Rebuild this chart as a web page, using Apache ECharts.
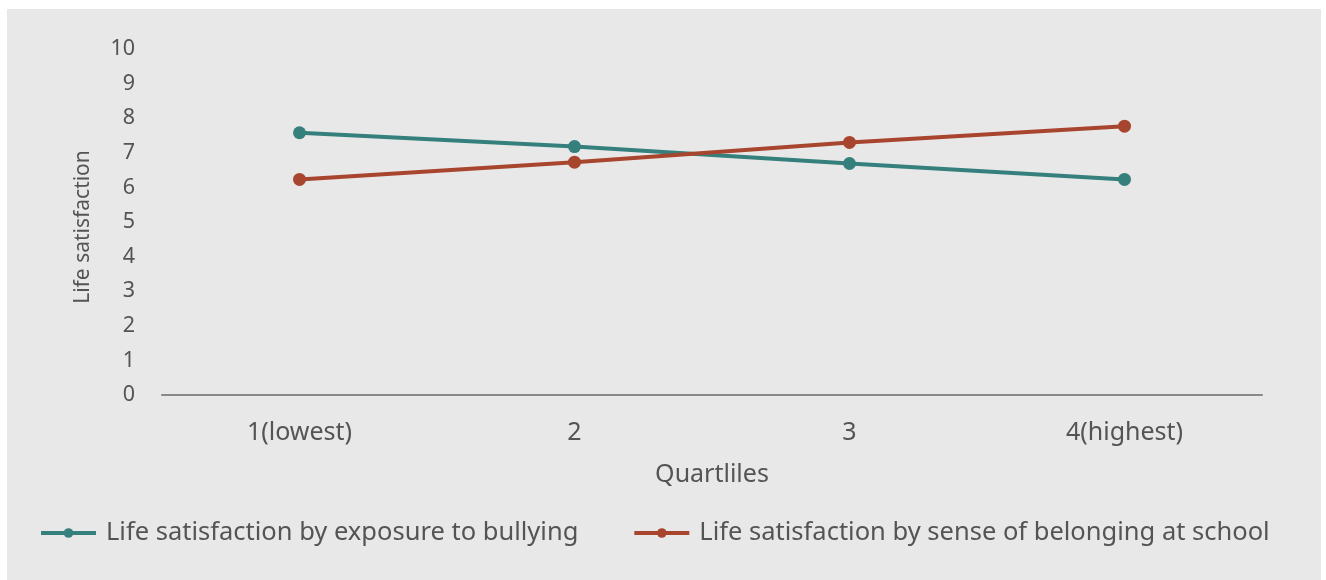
<!DOCTYPE html>
<html>
<head>
<meta charset="utf-8">
<script src="https://cdn.jsdelivr.net/npm/echarts@6/dist/echarts.min.js"></script>
<style>
html,body{margin:0;padding:0;background:#ffffff;}
#chart{position:absolute;left:7px;top:9px;width:1314px;height:571px;background:#e8e8e8;}
</style>
</head>
<body>
<div id="chart"></div>
<script>
const categories = ['1(lowest)', '2', '3', '4(highest)'];
const bullying = [7.58, 7.18, 6.69, 6.23];
const belonging = [6.23, 6.73, 7.30, 7.77];
const seriesNames = ['Life satisfaction by exposure to bullying', 'Life satisfaction by sense of belonging at school'];
const FONT = 'Noto Sans';
const TXT = '#545454';
const chart = echarts.init(document.getElementById('chart'), null, {renderer: 'canvas'});
chart.setOption({
  backgroundColor: '#e8e8e8',
  animation: false,
  textStyle: {fontFamily: FONT, color: TXT},
  grid: {left: 155, right: 59, top: 40, bottom: 185, containLabel: false},
  legend: {
    bottom: 29,
    left: 27,
    itemWidth: 55,
    itemHeight: 12,
    itemGap: 54,
    lineStyle: {width: 4},
    textStyle: {fontFamily: FONT, fontSize: 25.5, color: TXT, padding: [0, 0, 0, 5]},
    data: seriesNames
  },
  xAxis: {
    type: 'category',
    data: categories,
    boundaryGap: true,
    axisLine: {lineStyle: {color: '#888888', width: 2}},
    axisTick: {show: false},
    axisLabel: {fontFamily: FONT, fontSize: 25, color: TXT, margin: 25},
    name: 'Quartliles',
    nameLocation: 'middle',
    nameGap: 67,
    nameTextStyle: {fontFamily: FONT, fontSize: 25, color: TXT}
  },
  yAxis: {
    type: 'value',
    min: 0, max: 10, interval: 1,
    axisLine: {show: false},
    axisTick: {show: false},
    splitLine: {show: false},
    axisLabel: {fontFamily: FONT, fontSize: 21.5, color: TXT, margin: 27},
    name: 'Life satisfaction',
    nameLocation: 'middle',
    nameGap: 68,
    nameTextStyle: {fontFamily: FONT, fontSize: 21, color: TXT, padding: [0, 10, 0, 0]}
  },
  series: [
    {
      name: seriesNames[0], type: 'line', data: bullying,
      symbol: 'circle', symbolSize: 13,
      lineStyle: {color: '#35807d', width: 4},
      itemStyle: {color: '#35807d'}
    },
    {
      name: seriesNames[1], type: 'line', data: belonging,
      symbol: 'circle', symbolSize: 13,
      lineStyle: {color: '#a8452e', width: 4},
      itemStyle: {color: '#a8452e'}
    }
  ]
});
</script>
</body>
</html>
